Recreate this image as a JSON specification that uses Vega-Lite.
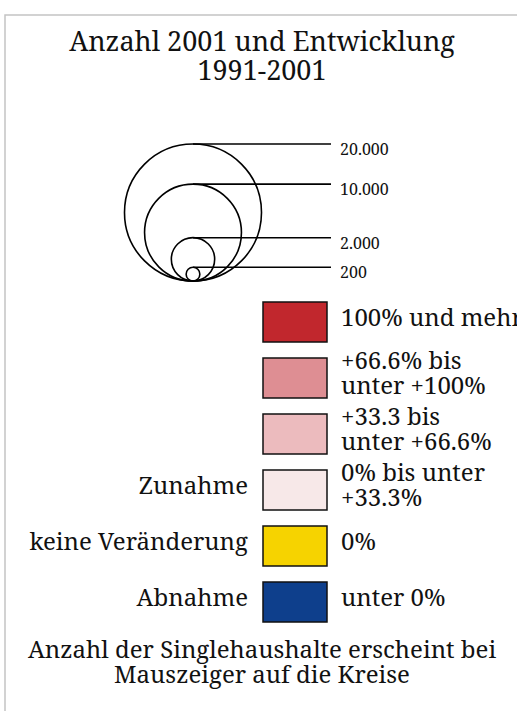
{
  "$schema": "https://vega.github.io/schema/vega-lite/v6.json",
  "width": 515,
  "height": 699,
  "autosize": {"type": "none"},
  "padding": {"left": 5, "top": 15, "right": -3, "bottom": -3},
  "background": "white",
  "config": {
    "view": {"stroke": "#c4c4c4", "strokeWidth": 1.5},
    "font": "Noto Serif, DejaVu Serif, serif",
    "text": {"color": "#111111"}
  },
  "title": {
    "text": ["Anzahl 2001 und Entwicklung", "1991-2001"],
    "anchor": "start",
    "dx": 257,
    "align": "center",
    "frame": "group",
    "orient": "top",
    "baseline": "alphabetic",
    "offset": -92,
    "fontSize": 27,
    "fontWeight": "normal",
    "lineHeight": 29,
    "color": "#111111",
    "font": "Noto Serif, DejaVu Serif, serif"
  },
  "datasets": {
    "kreise": [
      {"anzahl": 20000, "label": "20.000"},
      {"anzahl": 10000, "label": "10.000"},
      {"anzahl": 2000, "label": "2.000"},
      {"anzahl": 200, "label": "200"}
    ],
    "klassen": [
      {"klasse": "100% und mehr", "gruppe": "", "zeilen": 1},
      {"klasse": "+66.6% bis\nunter +100%", "gruppe": "", "zeilen": 2},
      {"klasse": "+33.3 bis\nunter +66.6%", "gruppe": "", "zeilen": 2},
      {"klasse": "0% bis unter\n+33.3%", "gruppe": "Zunahme", "zeilen": 2},
      {"klasse": "0%", "gruppe": "keine Veränderung", "zeilen": 1},
      {"klasse": "unter 0%", "gruppe": "Abnahme", "zeilen": 1}
    ],
    "hinweis": [
      {"text": "Anzahl der Singlehaushalte erscheint bei\nMauszeiger auf die Kreise"}
    ]
  },
  "layer": [
    {
      "data": {"name": "kreise"},
      "mark": {"type": "point", "shape": "circle", "filled": false, "stroke": "#000000", "strokeWidth": 1.6, "opacity": 1},
      "encoding": {
        "x": {"value": 188},
        "y": {"field": "anzahl", "type": "quantitative", "axis": null,
              "scale": {"type": "sqrt", "domain": [0, 20000], "range": [266, 197.5], "nice": false, "zero": true}},
        "size": {"field": "anzahl", "type": "quantitative", "legend": null,
                 "scale": {"type": "linear", "domain": [0, 20000], "range": [0, 18769], "zero": true}}
      }
    },
    {
      "data": {"name": "kreise"},
      "mark": {"type": "rule", "color": "#000000", "strokeWidth": 1.6},
      "encoding": {
        "x": {"value": 188},
        "x2": {"value": 326},
        "y": {"field": "anzahl", "type": "quantitative", "axis": null,
              "scale": {"type": "sqrt", "domain": [0, 20000], "range": [266, 129], "nice": false, "zero": true}}
      }
    },
    {
      "data": {"name": "kreise"},
      "mark": {"type": "text", "align": "left", "baseline": "middle", "fontSize": 16, "dy": 6},
      "encoding": {
        "x": {"value": 335},
        "y": {"field": "anzahl", "type": "quantitative", "axis": null,
              "scale": {"type": "sqrt", "domain": [0, 20000], "range": [266, 129], "nice": false, "zero": true}},
        "text": {"field": "label"}
      }
    },
    {
      "data": {"name": "klassen"},
      "mark": {"type": "rect", "stroke": "#111111", "strokeWidth": 1.5},
      "encoding": {
        "x": {"value": 258},
        "x2": {"value": 322},
        "y": {"field": "klasse", "type": "nominal", "axis": null, "sort": null,
              "scale": {"type": "band", "range": [287, 607], "paddingInner": 0.2857, "paddingOuter": 0}},
        "color": {"field": "klasse", "type": "nominal", "legend": null, "sort": null,
                  "scale": {"domain": ["100% und mehr", "+66.6% bis\nunter +100%", "+33.3 bis\nunter +66.6%", "0% bis unter\n+33.3%", "0%", "unter 0%"],
                            "range": ["#c1272d", "#de8e93", "#ecbbbe", "#f7e8e8", "#f6d300", "#0e3f8c"]}}
      }
    },
    {
      "data": {"name": "klassen"},
      "mark": {"type": "text", "align": "left", "baseline": "middle", "fontSize": 24, "lineHeight": 25, "lineBreak": "\n", "dy": -3, "clip": true},
      "encoding": {
        "x": {"value": 336},
        "y": {"field": "klasse", "type": "nominal", "axis": null, "sort": null,
              "scale": {"type": "band", "range": [287, 607], "paddingInner": 0.2857, "paddingOuter": 0}},
        "yOffset": {"field": "zeilen", "type": "quantitative",
                    "scale": {"type": "linear", "domain": [1, 2], "range": [20, 7.5], "zero": false, "nice": false}},
        "text": {"field": "klasse"}
      }
    },
    {
      "data": {"name": "klassen"},
      "mark": {"type": "text", "align": "right", "baseline": "middle", "fontSize": 24, "dy": -3},
      "encoding": {
        "x": {"value": 243},
        "y": {"field": "klasse", "type": "nominal", "axis": null, "sort": null,
              "scale": {"type": "band", "range": [287, 607], "paddingInner": 0.2857, "paddingOuter": 0}},
        "text": {"field": "gruppe"}
      }
    },
    {
      "data": {"name": "hinweis"},
      "mark": {"type": "text", "align": "center", "baseline": "middle", "fontSize": 24, "lineHeight": 25, "lineBreak": "\n"},
      "encoding": {
        "x": {"value": 257},
        "y": {"value": 636},
        "text": {"field": "text"}
      }
    }
  ],
  "resolve": {"scale": {"y": "independent", "color": "independent", "size": "independent", "yOffset": "independent"}}
}
